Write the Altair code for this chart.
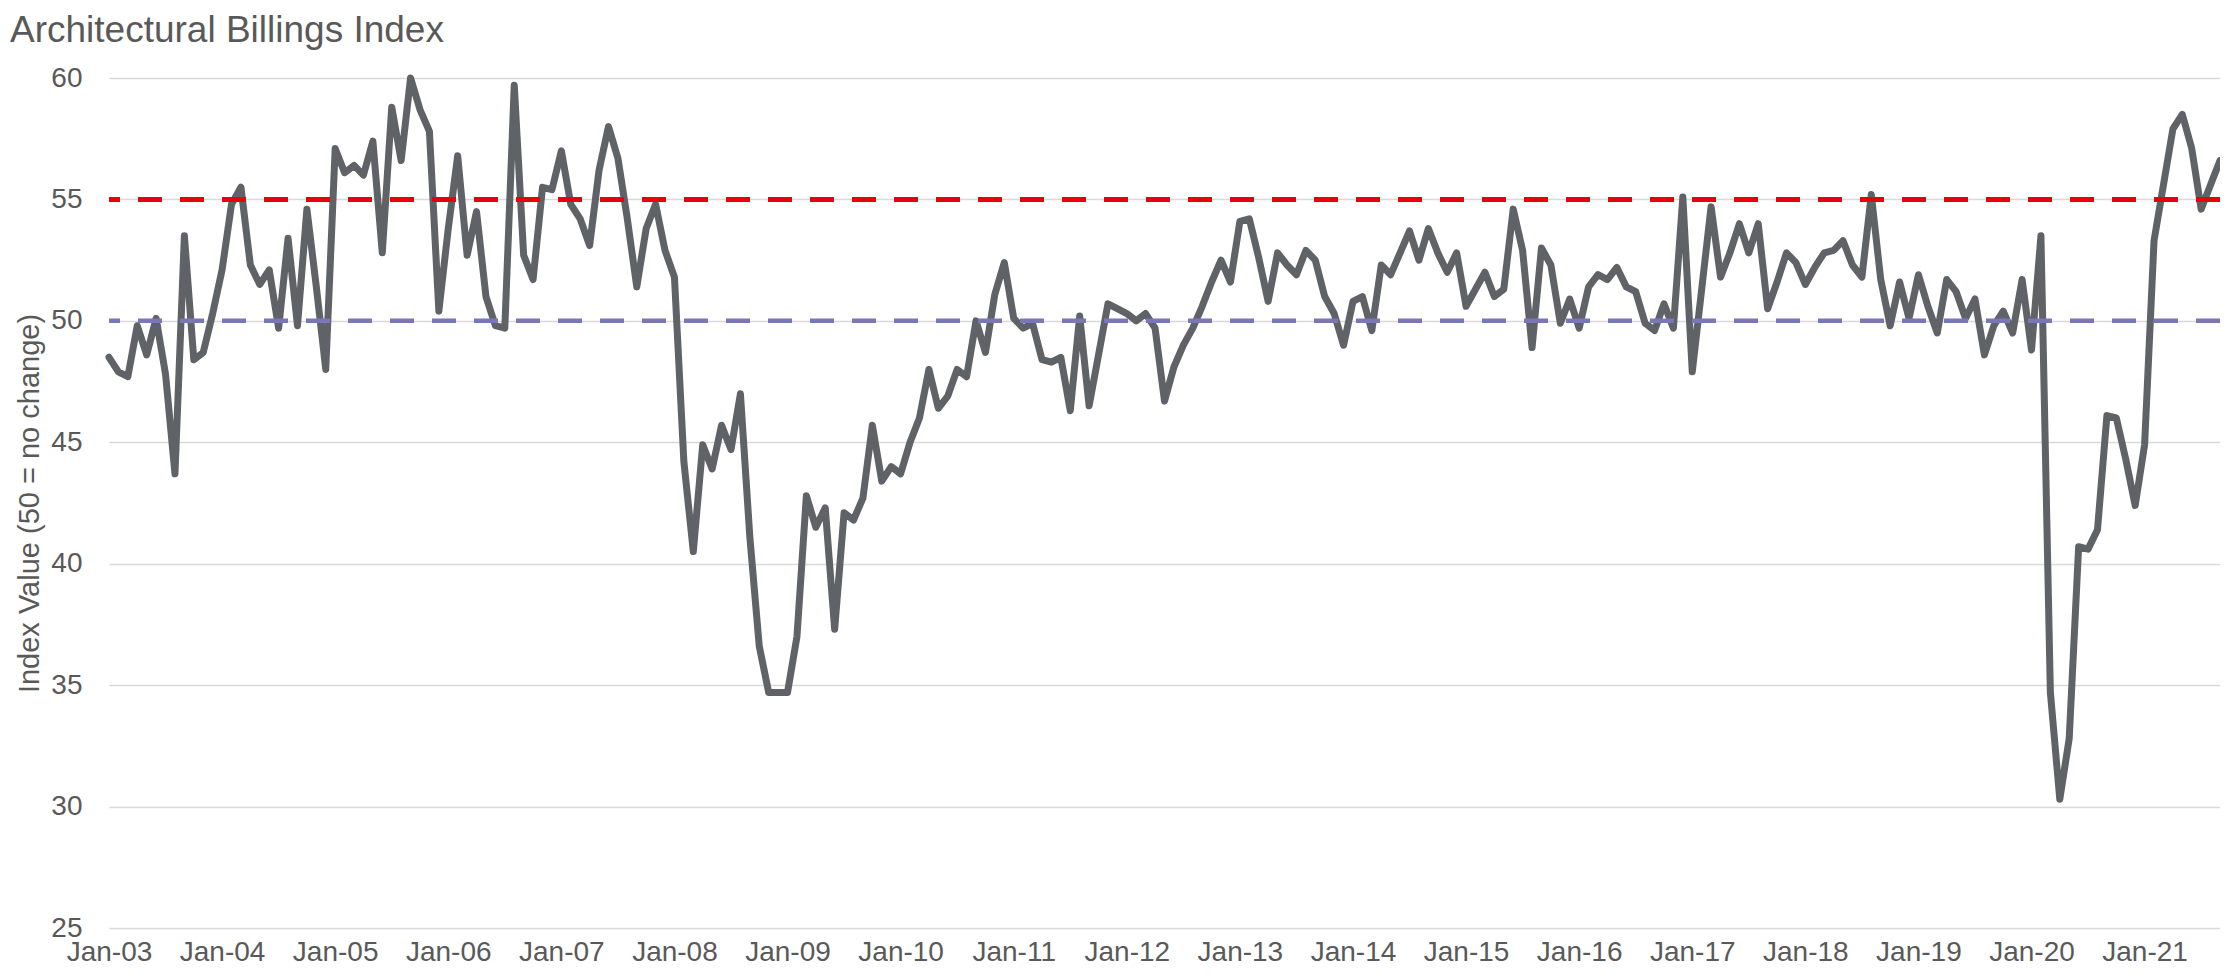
import altair as alt
import pandas as pd

# ---- data ----
month_names = ["Jan", "Feb", "Mar", "Apr", "May", "Jun",
               "Jul", "Aug", "Sep", "Oct", "Nov", "Dec"]
year_codes = ["03", "04", "05", "06", "07", "08", "09", "10", "11", "12",
              "13", "14", "15", "16", "17", "18", "19", "20", "21"]
tick_labels = ["Jan-03", "Jan-04", "Jan-05", "Jan-06", "Jan-07", "Jan-08",
               "Jan-09", "Jan-10", "Jan-11", "Jan-12", "Jan-13", "Jan-14",
               "Jan-15", "Jan-16", "Jan-17", "Jan-18", "Jan-19", "Jan-20",
               "Jan-21"]

abi_2003 = [48.5, 47.9, 47.7, 49.8, 48.6, 50.1, 47.8, 43.7, 53.5, 48.4, 48.7, 50.3]
abi_2004 = [52.1, 54.8, 55.5, 52.3, 51.5, 52.1, 49.7, 53.4, 49.8, 54.6, 51.4, 48.0]
abi_2005 = [57.1, 56.1, 56.4, 56.0, 57.4, 52.8, 58.8, 56.6, 60.0, 58.7, 57.8, 50.4]
abi_2006 = [53.8, 56.8, 52.7, 54.5, 51.0, 49.8, 49.7, 59.7, 52.7, 51.7, 55.5, 55.4]
abi_2007 = [57.0, 54.8, 54.2, 53.1, 56.2, 58.0, 56.7, 54.2, 51.4, 53.8, 54.8, 52.9]
abi_2008 = [51.8, 44.2, 40.5, 44.9, 43.9, 45.7, 44.7, 47.0, 41.1, 36.6, 34.7, 34.7]
abi_2009 = [34.7, 37.0, 42.8, 41.5, 42.3, 37.3, 42.1, 41.8, 42.7, 45.7, 43.4, 44.0]
abi_2010 = [43.7, 45.0, 46.0, 48.0, 46.4, 46.9, 48.0, 47.7, 50.0, 48.7, 51.1, 52.4]
abi_2011 = [50.1, 49.7, 49.9, 48.4, 48.3, 48.5, 46.3, 50.2, 46.5, 48.6, 50.7, 50.5]
abi_2012 = [50.3, 50.0, 50.3, 49.7, 46.7, 48.1, 49.0, 49.7, 50.6, 51.6, 52.5, 51.6]
abi_2013 = [54.1, 54.2, 52.6, 50.8, 52.8, 52.3, 51.9, 52.9, 52.5, 51.0, 50.3, 49.0]
abi_2014 = [50.8, 51.0, 49.6, 52.3, 51.9, 52.8, 53.7, 52.5, 53.8, 52.8, 52.0, 52.8]
abi_2015 = [50.6, 51.3, 52.0, 51.0, 51.3, 54.6, 52.9, 48.9, 53.0, 52.3, 49.9, 50.9]
abi_2016 = [49.7, 51.4, 51.9, 51.7, 52.2, 51.4, 51.2, 49.9, 49.6, 50.7, 49.7, 55.1]
abi_2017 = [47.9, 51.3, 54.7, 51.8, 52.8, 54.0, 52.8, 54.0, 50.5, 51.6, 52.8, 52.4]
abi_2018 = [51.5, 52.2, 52.8, 52.9, 53.3, 52.3, 51.8, 55.2, 51.7, 49.8, 51.6, 50.1]
abi_2019 = [51.9, 50.6, 49.5, 51.7, 51.2, 50.1, 50.9, 48.6, 49.8, 50.4, 49.5, 51.7]
abi_2020 = [48.8, 53.5, 34.7, 30.3, 32.8, 40.7, 40.6, 41.4, 46.1, 46.0, 44.3, 42.4]
abi_2021 = [44.9, 53.3, 55.6, 57.9, 58.5, 57.1, 54.6, 55.6, 56.6]

y_ticks = [25, 30, 35, 40, 45, 50, 55, 60]
ref_levels = [55, 50]
ref_colors = ["#e8000f", "#7b76b8"]
ref_widths = [5, 4.5]

title_text = "Architectural Billings Index"
y_title = "Index Value (50 = no change)"

# ---- assemble ----
values = (abi_2003 + abi_2004 + abi_2005 + abi_2006 + abi_2007 + abi_2008 +
          abi_2009 + abi_2010 + abi_2011 + abi_2012 + abi_2013 + abi_2014 +
          abi_2015 + abi_2016 + abi_2017 + abi_2018 + abi_2019 + abi_2020 +
          abi_2021)
months = [f"{m}-{y}" for y in year_codes for m in month_names][:len(values)]
df = pd.DataFrame({"month": months, "abi": values})

TXT = "#595959"
FONT = "Liberation Sans"
W, H = 2111, 850

x_enc = alt.X(
    "month:O",
    sort=months,
    scale=alt.Scale(type="point", domain=months, padding=0),
    axis=alt.Axis(values=tick_labels, labelAngle=0, ticks=False, domain=False,
                  grid=False, labelFontSize=28, labelColor=TXT, labelFont=FONT,
                  labelPadding=10, labelOverlap=False, labelBound=False,
                  title=None),
)
y_scale = alt.Scale(domain=[25, 60], nice=False, zero=False)
y_axis = alt.Axis(values=y_ticks, grid=True, gridColor="#d9d9d9", gridWidth=1.6,
                  domain=False, ticks=False, tickSize=0, labelPadding=27,
                  labelFontSize=28, labelColor=TXT, labelFont=FONT,
                  title=y_title, titleFont=FONT, titleFontSize=29,
                  titleFontWeight="normal", titleColor=TXT, titleAngle=270,
                  titleX=-80, titleY=H / 2, titleAlign="center",
                  titleBaseline="middle")

line = alt.Chart(df).mark_line(
    color="#5f6368", strokeWidth=7, strokeJoin="round", strokeCap="round"
).encode(x=x_enc, y=alt.Y("abi:Q", scale=y_scale, axis=y_axis))

rules = []
for lvl, col, sw in zip(ref_levels, ref_colors, ref_widths):
    rdf = pd.DataFrame({"level": [lvl]})
    rules.append(
        alt.Chart(rdf).mark_rule(color=col, strokeWidth=sw,
                                 strokeDash=[24, 18]).encode(
            y=alt.Y("level:Q", scale=y_scale, axis=y_axis)
        )
    )

title = alt.Chart(pd.DataFrame({"t": [title_text]})).mark_text(
    align="left", baseline="alphabetic", fontSize=37, font=FONT, color=TXT
).encode(x=alt.value(-99), y=alt.value(-36), text="t:N")

chart = alt.layer(line, *rules, title).properties(
    width=W, height=H,
    padding={"left": 101, "top": 70, "right": 0, "bottom": 40},
    autosize=alt.AutoSizeParams(type="none"),
).configure(background="white", view=alt.ViewConfig(stroke=None))

chart.save("out.html", embed_options={"renderer": "svg", "actions": False})
